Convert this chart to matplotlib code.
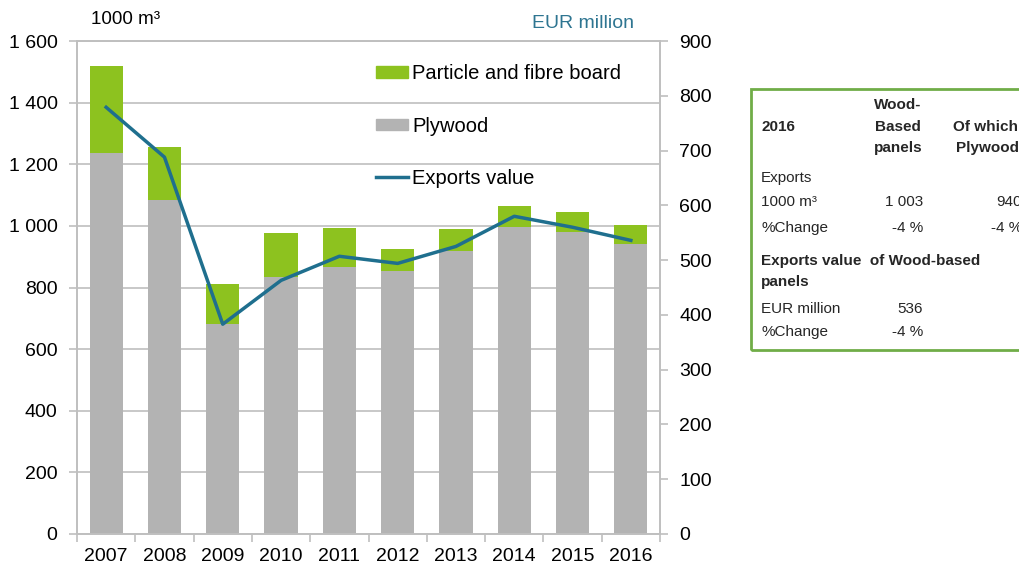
import numpy as np
import matplotlib
matplotlib.use("Agg")
import matplotlib.pyplot as plt
from matplotlib.patches import Rectangle, Patch
from matplotlib.lines import Line2D

plt.rcParams['font.family'] = ['Liberation Sans', 'DejaVu Sans']

# data
years = ['2007', '2008', '2009', '2010', '2011', '2012', '2013', '2014', '2015', '2016']
plywood = [1237, 1084, 682, 834, 867, 854, 919, 997, 980, 940]
particle = [282, 172, 130, 143, 126, 71, 71, 68, 65, 63]
exports_value = [779, 688, 383, 463, 507, 494, 525, 580, 560, 536]

left_ticks = np.arange(0, 1601, 200)
right_ticks = np.arange(0, 901, 100)

GREEN = '#8DC21F'
GREY = '#B3B3B3'
LINE = '#1F6F8E'
GRID = '#BFBFBF'

fig = plt.figure(figsize=(10.19, 5.68), dpi=100)
ax = fig.add_axes([77/1019, 1-534/568, (660-77)/1019, (534-41)/568])
ax2 = ax.twinx()

x = np.arange(len(years))
w = 0.57
ax.bar(x, plywood, w, color=GREY, zorder=2)
ax.bar(x, particle, w, bottom=plywood, color=GREEN, zorder=2)
ax2.plot(x, exports_value, color=LINE, lw=2.5, zorder=3)

ax.set_xlim(-0.5, len(years) - 0.5)
ax.set_ylim(0, 1600)
ax2.set_ylim(0, 900)
ax.set_yticks(left_ticks)
ax.set_yticklabels([f'{v:,}'.replace(',', ' ') for v in left_ticks])
ax2.set_yticks(right_ticks)
ax.yaxis.grid(True, color=GRID, lw=1.2, zorder=0)
ax.set_axisbelow(True)

ax.set_xticks(x)
ax.set_xticklabels(years)
ax.set_xticks(np.arange(-0.5, len(years), 1), minor=True)
ax.tick_params(axis='x', which='major', length=0, pad=10, labelsize=14)
ax.tick_params(axis='x', which='minor', length=6, color=GRID, width=1.2)
ax.tick_params(axis='y', length=6, color=GRID, width=1.2, labelsize=14, pad=8)
ax2.tick_params(axis='y', length=6, color=GRID, width=1.2, labelsize=14, pad=8)

for a in (ax, ax2):
    for s in a.spines.values():
        s.set_color(GRID)
        s.set_linewidth(1.2)

fig.text(91/1019, 1-20/568, '1000 m³', fontsize=13.5, va='center', ha='left')
fig.text(634/1019, 1-24/568, 'EUR million', fontsize=14, va='center', ha='right', color='#2E7591')

handles = [Patch(color=GREEN), Patch(color=GREY), Line2D([], [], color=LINE, lw=2.5)]
labels = ['Particle and fibre board', 'Plywood', 'Exports value']
fig.legend(handles, labels, loc='upper left', bbox_to_anchor=(366/1019, 1-54/568),
           frameon=False, fontsize=14.5, borderpad=0, labelspacing=1.66,
           handlelength=1.6, handleheight=0.5, handletextpad=0.2)

# side table
box = Rectangle((751/1019, 1-350/568), 400/1019, (350-89)/568, transform=fig.transFigure,
                fill=False, edgecolor='#70AD47', lw=2, clip_on=False)
fig.patches.append(box)

def t(px, py, s, ha='left', bold=False):
    fig.text(px/1019, 1-py/568, s, fontsize=11, ha=ha, va='center',
             fontweight='bold' if bold else 'normal', color='#262626')

t(761, 127, '2016', bold=True)
t(898, 105, 'Wood-', ha='center', bold=True)
t(898, 127, 'Based', ha='center', bold=True)
t(898, 148, 'panels', ha='center', bold=True)
t(953, 127, 'Of which', bold=True)
t(956, 148, 'Plywood', bold=True)
t(761, 178, 'Exports')
t(761, 202, '1000 m³')
t(923, 202, '1 003', ha='right')
t(1022, 202, '940', ha='right')
t(761, 228, '%Change')
t(923, 228, '-4 %', ha='right')
t(1022, 228, '-4 %', ha='right')
t(761, 261, 'Exports value  of Wood-based', bold=True)
t(761, 282, 'panels', bold=True)
t(761, 309, 'EUR million')
t(923, 309, '536', ha='right')
t(761, 332, '%Change')
t(923, 332, '-4 %', ha='right')

fig.savefig('out.png', dpi=100)
